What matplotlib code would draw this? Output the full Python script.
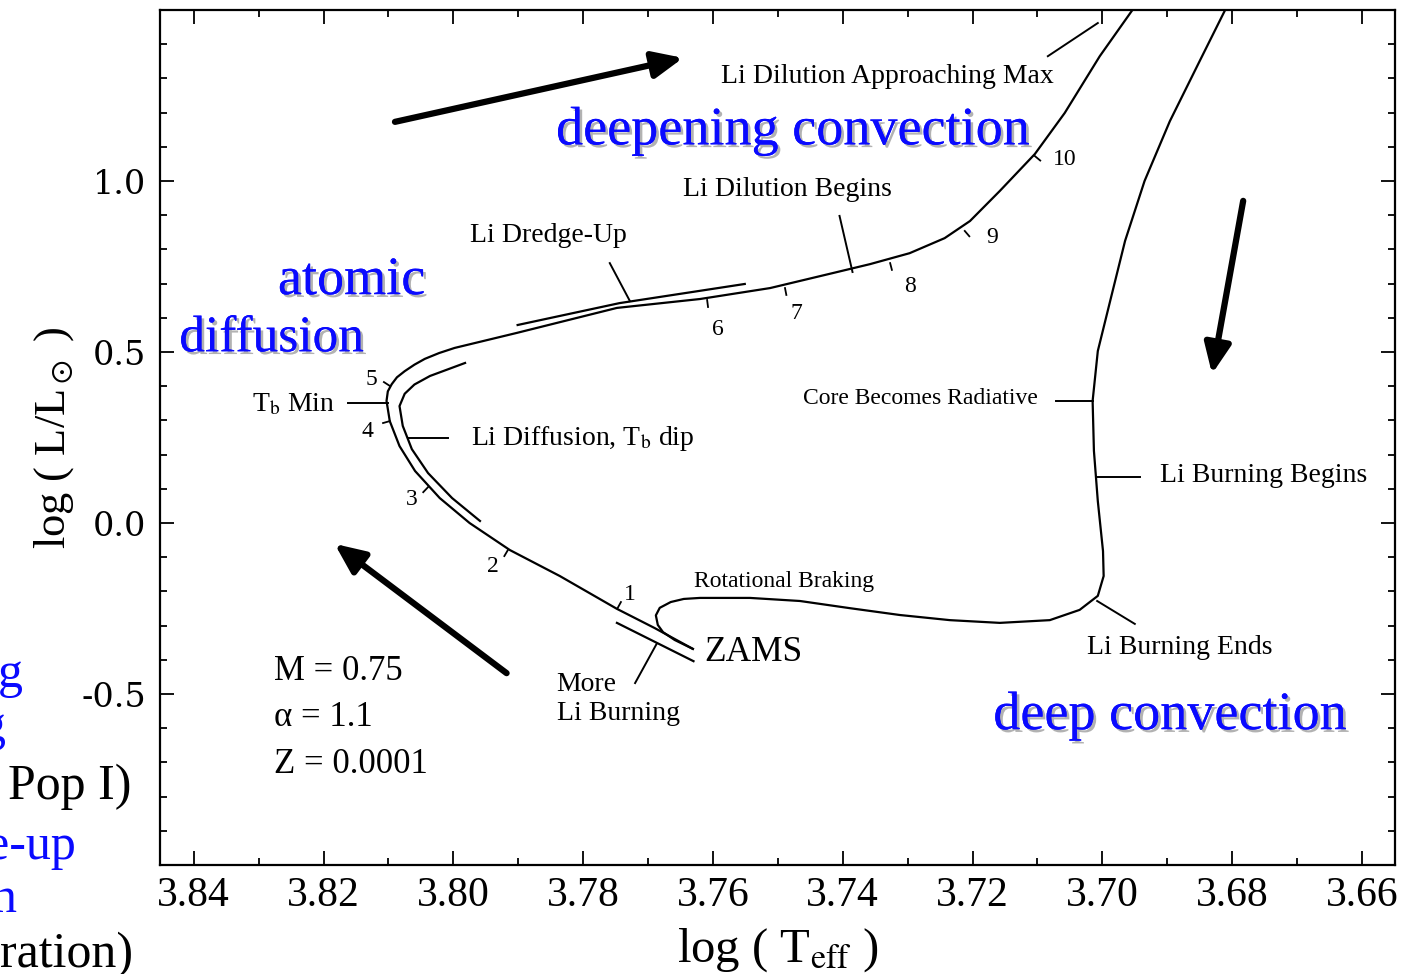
import numpy as np
import matplotlib
matplotlib.use("Agg")
import matplotlib.pyplot as plt
from matplotlib import patheffects as pe
from matplotlib.ticker import MultipleLocator

plt.rcParams['font.family'] = ['Liberation Serif', 'DejaVu Serif']
plt.rcParams['mathtext.fontset'] = 'stix'

# pre-main-sequence track (Hayashi descent, Li burning, rotational braking loop -> ZAMS)
pms_logt = [3.6804, 3.6850, 3.6896, 3.6935, 3.6965, 3.6988, 3.7007, 3.7015, 3.7013,
            3.7007, 3.6999, 3.6998, 3.7007, 3.7035, 3.7081, 3.7158, 3.7235, 3.7312,
            3.7389, 3.7466, 3.7543, 3.7620, 3.7645, 3.7665, 3.7682, 3.7688, 3.7685,
            3.7677, 3.7659, 3.7631]
pms_logl = [1.526, 1.351, 1.175, 1.000, 0.825, 0.649, 0.503, 0.357, 0.211,
            0.064, -0.082, -0.155, -0.213, -0.254, -0.284, -0.292, -0.284, -0.269,
            -0.249, -0.228, -0.219, -0.219, -0.222, -0.231, -0.248, -0.270, -0.298,
            -0.319, -0.342, -0.368]

# main-sequence / subgiant track from ZAMS
ms_logt = [3.7631, 3.7690, 3.7748, 3.7836, 3.7913, 3.7975, 3.8021, 3.8059, 3.8083,
           3.8098, 3.8103, 3.8101, 3.8095, 3.8087, 3.8075, 3.8060, 3.8044, 3.8022,
           3.7998, 3.7902, 3.7748, 3.7620, 3.7512, 3.7415, 3.7358, 3.7297, 3.7243,
           3.7204, 3.7158, 3.7104, 3.7058, 3.7004, 3.6947]
ms_logl = [-0.368, -0.307, -0.251, -0.155, -0.079, 0.000, 0.073, 0.152, 0.225,
           0.298, 0.357, 0.385, 0.406, 0.426, 0.444, 0.463, 0.480, 0.497,
           0.512, 0.556, 0.629, 0.655, 0.687, 0.731, 0.757, 0.789, 0.833,
           0.883, 0.971, 1.079, 1.199, 1.365, 1.518]

# parallel marker lines
diff_logt = [3.7982, 3.8036, 3.8060, 3.8075, 3.8083, 3.8078, 3.8064, 3.8039, 3.8002, 3.7959]
diff_logl = [0.468, 0.430, 0.405, 0.378, 0.342, 0.284, 0.216, 0.146, 0.073, 0.006]
dredge_logt = [3.7901, 3.7744, 3.7551]
dredge_logl = [0.579, 0.643, 0.699]
burn_logt = [3.7748, 3.7630]
burn_logl = [-0.292, -0.404]

# leader lines: (x1, y1, x2, y2)
leaders = [
    (3.8163, 0.351, 3.8101, 0.351),   # Tb Min
    (3.8070, 0.249, 3.8009, 0.249),   # Li Diffusion
    (3.7759, 0.760, 3.7728, 0.649),   # Li Dredge-Up
    (3.7405, 0.898, 3.7385, 0.734),   # Li Dilution Begins
    (3.7084, 1.365, 3.7007, 1.462),   # Li Dilution Approaching Max
    (3.7072, 0.357, 3.7015, 0.357),   # Core Becomes Radiative
    (3.7008, 0.135, 3.6942, 0.135),   # Li Burning Begins
    (3.7008, -0.228, 3.6950, -0.295), # Li Burning Ends
    (3.7687, -0.354, 3.7720, -0.468), # More Li Burning
]

# numbered points along the track
num_labels = ['1', '2', '3', '4', '5', '6', '7', '8', '9', '10']
num_logt = [3.7747, 3.7916, 3.8039, 3.8098, 3.8098, 3.7609, 3.7489, 3.7327, 3.7212, 3.7104]
num_logl = [-0.249, -0.079, 0.105, 0.298, 0.401, 0.652, 0.687, 0.760, 0.854, 1.073]
lab_logt = [3.7728, 3.7939, 3.8064, 3.8132, 3.8127, 3.7593, 3.7471, 3.7297, 3.7170, 3.7058]
lab_logl = [-0.208, -0.126, 0.070, 0.269, 0.421, 0.567, 0.614, 0.693, 0.836, 1.064]

# thick arrows: (x_from, y_from, x_to, y_to)
arrows = [
    (3.8090, 1.173, 3.7646, 1.360),
    (3.6783, 0.942, 3.6831, 0.436),
    (3.7918, -0.439, 3.8183, -0.061),
]

xticks = [3.84, 3.82, 3.80, 3.78, 3.76, 3.74, 3.72, 3.70, 3.68, 3.66]
yticks = [-0.5, 0.0, 0.5, 1.0]

fig = plt.figure(figsize=(14.15, 9.74), dpi=100)
ax = fig.add_axes([0.1131, 0.1119, 0.8728, 0.8778])
ax.set_xlim(3.8452, 3.6549)
ax.set_ylim(-1.0, 1.5)

lw = 1.6
ax.plot(pms_logt, pms_logl, color='k', lw=lw, solid_joinstyle='round')
ax.plot(ms_logt, ms_logl, color='k', lw=lw, solid_joinstyle='round')
ax.plot(diff_logt, diff_logl, color='k', lw=lw, solid_joinstyle='round')
ax.plot(dredge_logt, dredge_logl, color='k', lw=lw)
ax.plot(burn_logt, burn_logl, color='k', lw=lw)
for x1, y1, x2, y2 in leaders:
    ax.plot([x1, x2], [y1, y2], color='k', lw=1.4)

# small ticks on the track, pointing towards their numbers
trans = ax.transData
inv = trans.inverted()
track = trans.transform(np.column_stack([ms_logt, ms_logl]))
for tx, ty, lx, ly, lab in zip(num_logt, num_logl, lab_logt, lab_logl, num_labels):
    p = trans.transform((tx, ty))
    d = np.hypot(*(track - p).T)
    i = int(np.argmin(d))
    a, b = track[max(i - 1, 0)], track[min(i + 1, len(track) - 1)]
    t = (b - a) / np.hypot(*(b - a))
    n = np.array([-t[1], t[0]])
    q = trans.transform((lx, ly))
    if np.dot(q - p, n) < 0:
        n = -n
    e = inv.transform(p + n * 7)
    ax.plot([tx, e[0]], [ty, e[1]], color='k', lw=1.3)
    ax.text(lx, ly, lab, fontsize=17, ha='center', va='center')

for x0, y0, x1, y1 in arrows:
    ax.annotate('', xy=(x1, y1), xytext=(x0, y0),
                arrowprops=dict(arrowstyle='-|>,head_length=0.9,head_width=0.4',
                                mutation_scale=20, lw=4.5, color='k',
                                shrinkA=0, shrinkB=0))

fs = 20
ax.text(3.7332, 1.307, 'Li Dilution Approaching Max', fontsize=fs, ha='center', va='center')
ax.text(3.7485, 0.974, 'Li Dilution Begins', fontsize=fs, ha='center', va='center')
ax.text(3.7853, 0.842, 'Li Dredge-Up', fontsize=fs, ha='center', va='center')
ax.text(3.8183, 0.345, r'T$_\mathrm{b}$ Min', fontsize=fs, ha='right', va='center')
ax.text(3.7973, 0.246, r'Li Diffusion, T$_\mathrm{b}$ dip', fontsize=fs, ha='left', va='center')
ax.text(3.7099, 0.365, 'Core Becomes Radiative', fontsize=17, ha='right', va='center')
ax.text(3.6911, 0.140, 'Li Burning Begins', fontsize=fs, ha='left', va='center')
ax.text(3.7491, -0.170, 'Rotational Braking', fontsize=17, ha='center', va='center')
ax.text(3.7613, -0.380, 'ZAMS', fontsize=25.5, ha='left', va='center')
ax.text(3.6881, -0.365, 'Li Burning Ends', fontsize=fs, ha='center', va='center')
ax.text(3.7841, -0.471, 'More', fontsize=fs, ha='left', va='center')
ax.text(3.7841, -0.558, 'Li Burning', fontsize=fs, ha='left', va='center')
ax.text(3.8277, -0.433, 'M = 0.75', fontsize=25, ha='left', va='center')
ax.text(3.8277, -0.570, 'α = 1.1', fontsize=25, ha='left', va='center')
ax.text(3.8277, -0.705, 'Z = 0.0001', fontsize=25, ha='left', va='center')

blue = '#0a0aff'
shadow = [pe.withSimplePatchShadow(offset=(2, -2), shadow_rgbFace='#555555', alpha=0.45),
          pe.Normal()]
for x, y, s, size in [(3.7477, 1.146, 'deepening convection', 39),
                      (3.8157, 0.708, 'atomic', 39),
                      (3.8280, 0.538, 'diffusion', 37),
                      (3.6896, -0.564, 'deep convection', 39)]:
    ax.text(x, y, s, fontsize=size, color=blue, ha='center', va='center',
            path_effects=shadow)

ax.set_xticks(xticks)
ax.set_xticklabels([f'{v:.2f}' for v in xticks])
ax.set_yticks(yticks)
ax.set_yticklabels([f'{v:.1f}' for v in yticks])
ax.xaxis.set_minor_locator(MultipleLocator(0.01))
ax.yaxis.set_minor_locator(MultipleLocator(0.1))
ax.tick_params(which='both', direction='in', top=True, right=True, width=1.3)
ax.tick_params(which='major', length=10)
ax.tick_params(which='minor', length=5)
ax.tick_params(axis='x', labelsize=30, pad=8)
ax.tick_params(axis='y', labelsize=24, pad=10)
for lab in ax.get_yticklabels():
    lab.set_family('DejaVu Serif')
for sp in ax.spines.values():
    sp.set_linewidth(1.6)

ax.set_xlabel(r'log ( T$_\mathrm{eff}$ )', fontsize=35, labelpad=8)
ax.set_ylabel(r'log ( L/L$_\odot$ )', fontsize=32, labelpad=4)

# fragments of slide text cut off at the left edge
for xr, yc, s, c in [(23, 675, 'g', blue), (6, 728, 'g', blue),
                     (131, 787, 'Pop I)', 'k'), (76, 847, 'e-up', blue),
                     (17, 900, 'n', blue), (133, 955, 'ration)', 'k')]:
    fig.text(xr / 1415, 1 - yc / 974, s, fontsize=36, color=c, ha='right', va='center')

fig.savefig('out.png', dpi=100)
